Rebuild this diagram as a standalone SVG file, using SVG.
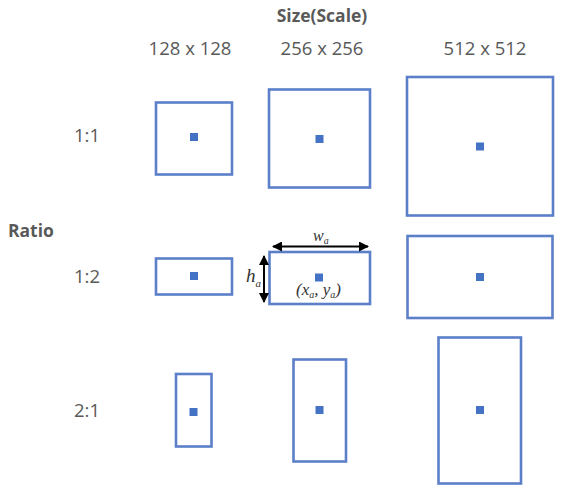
<svg xmlns="http://www.w3.org/2000/svg" width="572" height="504" viewBox="0 0 572 504">
<defs>
<style>
.lbl{font-family:"Open Sans","Liberation Sans",sans-serif;font-size:18.5px;fill:#595959}
.hd{font-family:"Open Sans","Liberation Sans",sans-serif;font-size:17.5px;font-weight:bold;fill:#595959}
.box{fill:#fff;stroke:#5b7fc9;stroke-width:2.6}
.dot{fill:#4472c4}
.ann{stroke:#000;stroke-width:2;fill:none}
.it{font-family:"Liberation Serif",serif;font-style:italic;fill:#333}
</style>
<marker id="ah" viewBox="0 0 10 10" refX="9" refY="5" markerWidth="5" markerHeight="5" orient="auto-start-reverse">
<path d="M0,0 L10,5 L0,10 z" fill="#000"/>
</marker>
</defs>
<rect width="572" height="504" fill="#fff"/>
<g id="headers">
<text class="hd" x="322" y="22" text-anchor="middle">Size(Scale)</text>
<text class="hd" x="8" y="237">Ratio</text>
<text class="lbl" x="190" y="55" text-anchor="middle">128 x 128</text>
<text class="lbl" x="322" y="55" text-anchor="middle">256 x 256</text>
<text class="lbl" x="485" y="55" text-anchor="middle">512 x 512</text>
<text class="lbl" x="87" y="142" text-anchor="middle" font-size="20">1:1</text>
<text class="lbl" x="87" y="283" text-anchor="middle" font-size="20">1:2</text>
<text class="lbl" x="87" y="417" text-anchor="middle" font-size="20">2:1</text>
</g>
<g id="r1c1"><rect class="box" x="156" y="102.5" width="76" height="72"/><rect class="dot" x="190" y="133" width="8" height="8"/></g>
<g id="r1c2"><rect class="box" x="269" y="89.5" width="101" height="98"/><rect class="dot" x="315.5" y="135" width="8" height="8"/></g>
<g id="r1c3"><rect class="box" x="407" y="77" width="146" height="138.5"/><rect class="dot" x="476" y="142.5" width="8" height="8"/></g>
<g id="r2c1"><rect class="box" x="156" y="258.5" width="76" height="36"/><rect class="dot" x="190" y="272" width="8" height="8"/></g>
<g id="r2c2"><rect class="box" x="269.5" y="252" width="100.5" height="52"/><rect class="dot" x="315" y="273.5" width="8" height="8"/></g>
<g id="r2c3"><rect class="box" x="407.5" y="236" width="145" height="82"/><rect class="dot" x="476" y="273" width="8" height="8"/></g>
<g id="r3c1"><rect class="box" x="176" y="374" width="35.5" height="72.5"/><rect class="dot" x="189.5" y="408" width="8" height="8"/></g>
<g id="r3c2"><rect class="box" x="293.5" y="359.5" width="52.5" height="102"/><rect class="dot" x="315.5" y="406" width="8" height="8"/></g>
<g id="r3c3"><rect class="box" x="438.5" y="337.5" width="82.5" height="146"/><rect class="dot" x="476" y="406" width="8" height="8"/></g>
<g id="connectors">
<line class="ann" x1="273" y1="246.5" x2="368" y2="246.5" marker-start="url(#ah)" marker-end="url(#ah)"/>
<line class="ann" x1="264" y1="256" x2="264" y2="302" marker-start="url(#ah)" marker-end="url(#ah)"/>
</g>
<g id="annotations">
<text class="it" x="313" y="241" font-size="16">w<tspan font-size="10" dy="3">a</tspan></text>
<text class="it" x="246" y="282" font-size="19">h<tspan font-size="11" dy="5">a</tspan></text>
<text class="it" x="296" y="295" font-size="17">(x<tspan font-size="10" dy="3">a</tspan><tspan dy="-3">, y</tspan><tspan font-size="10" dy="3">a</tspan><tspan dy="-3">)</tspan></text>
</g>
</svg>
